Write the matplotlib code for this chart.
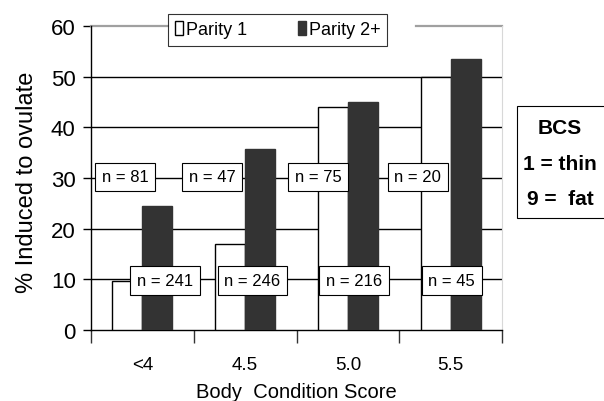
import matplotlib

matplotlib.use("Agg")
import matplotlib.pyplot as plt
from matplotlib.patches import Rectangle
import numpy as np

plt.rcParams["font.family"] = ["Liberation Sans", "DejaVu Sans"]
NARROW = ["Liberation Sans Narrow", "Liberation Sans", "DejaVu Sans"]

# data
categories = ["<4", "4.5", "5.0", "5.5"]
parity1 = [9.7, 17.0, 44.0, 50.0]
parity2 = [24.5, 35.8, 45.0, 53.4]
n_parity1 = [81, 47, 75, 20]
n_parity2 = [241, 246, 216, 45]

# label placement (layout only)
N1_DX = [-0.17, -0.32, -0.29, -0.32]
N1_Y = 30.2
N2_DX = [0.22, 0.07, 0.06, 0.01]
N2_Y = 9.8

DARK = "#333333"
W = 0.292

W_PX, H_PX = 604, 402
fig = plt.figure(figsize=(W_PX / 100, H_PX / 100), dpi=100)
ax = fig.add_axes([91 / W_PX, (H_PX - 331) / H_PX, (502 - 91) / W_PX, (331 - 27) / H_PX])

x = np.arange(len(categories))
ax.bar(x - W / 2, parity1, width=W, color="white", edgecolor="black", linewidth=1.0, zorder=3, label="Parity 1")
ax.bar(x + W / 2, parity2, width=W, color=DARK, edgecolor=DARK, linewidth=1.0, zorder=3, label="Parity 2+")

for level in range(10, 60, 10):
    ax.axhline(level, color="black", linewidth=1.0, zorder=1)

ax.set_xlim(-0.5, len(categories) - 0.5)
ax.set_ylim(0, 60)
ax.set_yticks(range(0, 61, 10))
ax.tick_params(axis="y", labelsize=16, length=6, width=1, pad=5)
for lbl in ax.get_yticklabels():
    lbl.set_fontfamily(NARROW)

ax.set_xticks(np.arange(-0.5, len(categories), 1.0))
ax.set_xticklabels([])
ax.tick_params(axis="x", which="major", length=9, width=1, direction="out", color="#333333")
ax.set_xticks(x, minor=True)
ax.set_xticklabels(categories, minor=True)
ax.tick_params(axis="x", which="minor", length=0, labelsize=13.5, pad=19)
for lbl in ax.get_xticklabels(minor=True):
    lbl.set_fontfamily(NARROW)

# grey plot-area border: top line broken where the legend sits
ax.spines["top"].set_visible(False)
ax.axhline(60, xmin=0, xmax=(168 - 91) / 411, color="#a0a0a0", linewidth=1.6, clip_on=False)
ax.axhline(60, xmin=(416 - 91) / 411, xmax=1, color="#a0a0a0", linewidth=1.6, clip_on=False)
ax.spines["right"].set_color("#d8d8d8")
ax.spines["left"].set_linewidth(1.0)
ax.spines["bottom"].set_linewidth(1.0)

ax.set_ylabel("% Induced to ovulate", fontsize=17)
ax.yaxis.set_label_coords(-0.13, 0.49)
ax.set_xlabel("Body  Condition Score", fontsize=14.5, labelpad=6)

box = dict(boxstyle="square,pad=0.4", facecolor="white", edgecolor="black", linewidth=0.8)
for i, n in enumerate(n_parity1):
    ax.text(x[i] + N1_DX[i], N1_Y, f"n = {n}", ha="center", va="center", fontsize=12, bbox=box, zorder=5)
for i, n in enumerate(n_parity2):
    ax.text(x[i] + N2_DX[i], N2_Y, f"n = {n}", ha="center", va="center", fontsize=12, bbox=box, zorder=5)

leg = ax.legend(
    loc="upper left",
    bbox_to_anchor=(168 / W_PX, (H_PX - 15) / H_PX),
    bbox_transform=fig.transFigure,
    ncol=2,
    fontsize=13,
    frameon=True,
    fancybox=False,
    edgecolor="black",
    handlelength=0.45,
    handleheight=0.8,
    handletextpad=0.15,
    columnspacing=2.8,
    borderpad=0.4,
    borderaxespad=0,
)
leg.get_frame().set_linewidth(0.8)
leg.set_zorder(10)
for t in leg.get_texts():
    t.set_fontfamily(NARROW)

# BCS key box on the right
fig.patches.append(
    Rectangle((517 / W_PX, (H_PX - 219) / H_PX), 100 / W_PX, 112 / H_PX,
              transform=fig.transFigure, facecolor="white", edgecolor="black", linewidth=0.8)
)
for label, ypx in [("BCS", 129), ("1 = thin", 165), ("9 =  fat", 200)]:
    fig.text(560 / W_PX, (H_PX - ypx) / H_PX, label, ha="center", va="center", fontsize=15, fontweight="bold")

fig.savefig("out.png", dpi=100)
